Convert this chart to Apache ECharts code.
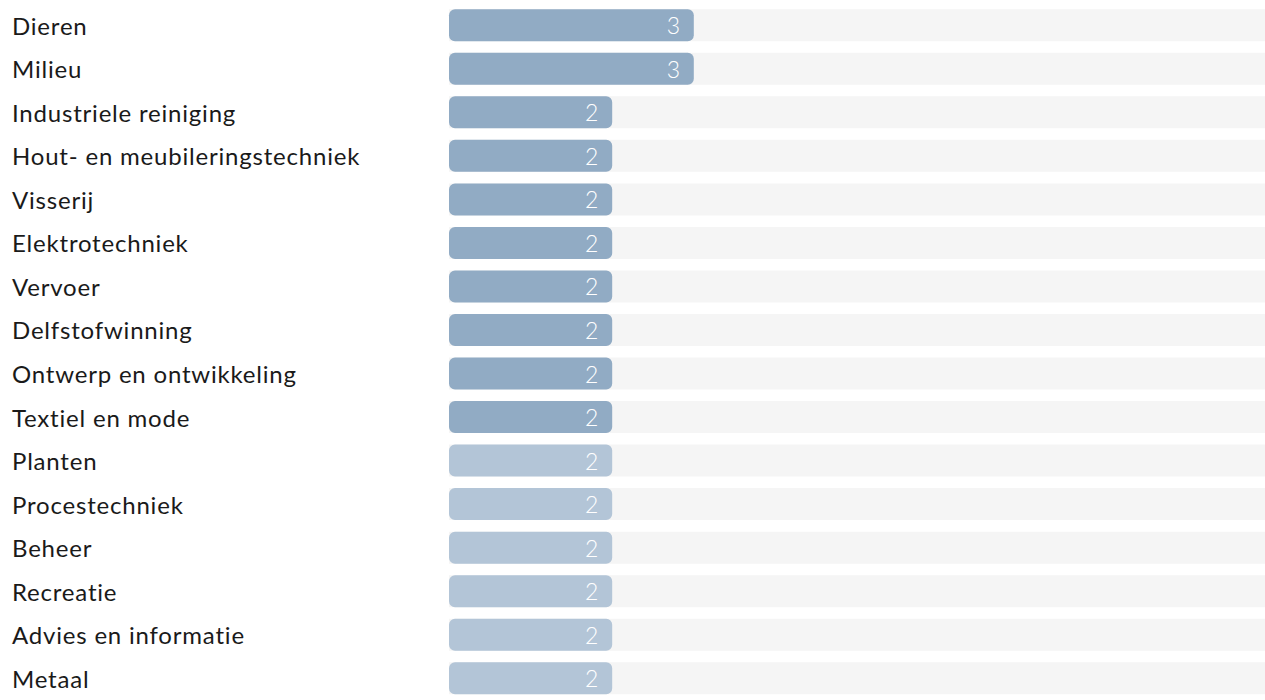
<!DOCTYPE html>
<html><head><meta charset="utf-8">
<script src="https://cdn.jsdelivr.net/npm/echarts@6/dist/echarts.min.js"></script>
<style>html,body{margin:0;padding:0;background:#fff}#c{width:1265px;height:700px}
#c text{letter-spacing:0.8px;font-variant-ligatures:none}</style>
</head><body><div id="c"></div>
<script>
const categories = ["Dieren","Milieu","Industriele reiniging","Hout- en meubileringstechniek","Visserij","Elektrotechniek","Vervoer","Delfstofwinning","Ontwerp en ontwikkeling","Textiel en mode","Planten","Procestechniek","Beheer","Recreatie","Advies en informatie","Metaal"];
const values = [3,3,2,2,2,2,2,2,2,2,2,2,2,2,2,2];
const highlighted = [1,1,1,1,1,1,1,1,1,1,0,0,0,0,0,0];
const chart = echarts.init(document.getElementById('c'), null, {renderer:'svg'});
chart.setOption({
  animation:false,
  grid:{left:449, top:3.5, width:824, height:704},
  xAxis:{type:'value', min:0, max:10, show:false},
  yAxis:{type:'category', data:categories, inverse:true,
    axisLine:{show:false}, axisTick:{show:false},
    axisLabel:{align:'left', margin:437, fontFamily:'Lato', fontSize:24, color:'#1a1a1a'}},
  series:[{type:'bar', barWidth:32,
    showBackground:true,
    backgroundStyle:{color:'#f5f5f5', borderRadius:0},
    data: values.map((v,i)=>({value:v, itemStyle:{color: highlighted[i] ? '#91abc4' : '#b3c5d7'}})),
    itemStyle:{borderRadius:6},
    label:{show:true, position:'insideRight', distance:13, color:'#fff', fontFamily:'Lato', fontWeight:300, fontSize:23}
  }]
});
</script></body></html>
